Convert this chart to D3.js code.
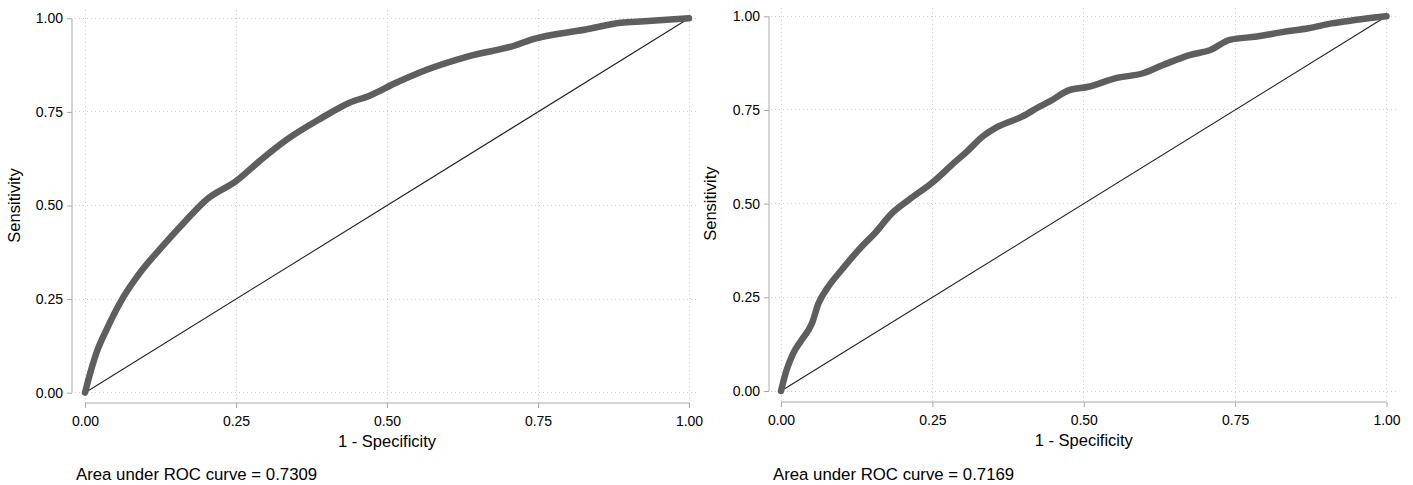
<!DOCTYPE html>
<html>
<head>
<meta charset="utf-8">
<script src="https://cdn.jsdelivr.net/npm/d3@7"></script>
<style>
  body { margin: 0; background: #fff; }
  svg { display: block; font-family: "Liberation Sans", Arial, sans-serif; }
</style>
</head>
<body>
<svg id="chart" width="1413" height="485"></svg>
<script>
// ---- Data ----
const tickValues = [0, 0.25, 0.5, 0.75, 1];
const tickLabels = ["0.00", "0.25", "0.50", "0.75", "1.00"];

const leftFpr  = [0, 0.005, 0.018, 0.037, 0.063, 0.089, 0.131, 0.166, 0.2015, 0.25, 0.295, 0.334, 0.392, 0.437, 0.469, 0.514, 0.552, 0.636, 0.713, 0.739, 0.829, 0.887, 0.926, 1];
const leftTpr  = [0, 0.031, 0.102, 0.173, 0.254, 0.316, 0.396, 0.458, 0.516, 0.565, 0.627, 0.676, 0.734, 0.774, 0.792, 0.827, 0.854, 0.899, 0.928, 0.943, 0.970, 0.988, 0.992, 1];
const leftAuc  = "Area under ROC curve = 0.7309";

const rightFpr = [0, 0.009, 0.02, 0.034, 0.051, 0.062, 0.078, 0.1, 0.133, 0.155, 0.183, 0.211, 0.249, 0.288, 0.307, 0.333, 0.359, 0.398, 0.427, 0.443, 0.476, 0.508, 0.553, 0.598, 0.631, 0.676, 0.709, 0.741, 0.786, 0.832, 0.871, 0.909, 0.948, 1];
const rightTpr = [0, 0.055, 0.1, 0.136, 0.18, 0.234, 0.278, 0.323, 0.385, 0.421, 0.474, 0.51, 0.555, 0.612, 0.639, 0.679, 0.706, 0.732, 0.759, 0.772, 0.803, 0.812, 0.835, 0.848, 0.870, 0.897, 0.910, 0.937, 0.946, 0.959, 0.968, 0.981, 0.990, 1];
const rightAuc = "Area under ROC curve = 0.7169";

const xTitle = "1 - Specificity";
const yTitle = "Sensitivity";

// ---- Drawing ----
const svg = d3.select("#chart");
const FONT = "Liberation Sans, Arial, sans-serif";

function panel(cfg, fpr, tpr, aucText) {
  const g = svg.append("g");
  const x = d3.scaleLinear().domain([0, 1]).range([cfg.x0, cfg.x1]);
  const y = d3.scaleLinear().domain([0, 1]).range([cfg.y0, cfg.y1]);

  // grid
  const grid = g.append("g");
  grid.selectAll("line.h").data(tickValues).join("line")
    .attr("x1", cfg.x0 - 10).attr("x2", cfg.x1 + 10)
    .attr("y1", d => y(d)).attr("y2", d => y(d))
    .attr("stroke", "#cfcfcf").attr("stroke-width", 1).attr("stroke-dasharray", "1,3")
    .attr("shape-rendering", "crispEdges");
  grid.selectAll("line.v").data(tickValues).join("line")
    .attr("y1", cfg.y0 + 10).attr("y2", cfg.y1 - 10)
    .attr("x1", d => x(d)).attr("x2", d => x(d))
    .attr("stroke", "#cfcfcf").attr("stroke-width", 1).attr("stroke-dasharray", "1,3")
    .attr("shape-rendering", "crispEdges");

  // y axis
  const yAxis = d3.axisLeft(y).tickValues(tickValues)
    .tickFormat((d, i) => tickLabels[i]).tickSize(5).tickSizeOuter(0).tickPadding(4);
  const ya = g.append("g").attr("transform", `translate(${cfg.yAxisX},0)`).call(yAxis);
  ya.select(".domain").attr("stroke", "#a8a8a8").attr("d", `M0,${y(1)}V${y(0)}`);
  ya.selectAll(".tick line").attr("stroke", "#a8a8a8");
  ya.selectAll(".tick text").attr("fill", "#000").attr("font-size", 14).attr("font-family", FONT);

  // x axis
  const xAxis = d3.axisBottom(x).tickValues(tickValues)
    .tickFormat((d, i) => tickLabels[i]).tickSize(5).tickSizeOuter(0).tickPadding(8);
  const xa = g.append("g").attr("transform", `translate(0,${cfg.xAxisY})`).call(xAxis);
  xa.select(".domain").attr("stroke", "#a8a8a8").attr("d", `M${x(0)},0H${x(1)}`);
  xa.selectAll(".tick line").attr("stroke", "#a8a8a8");
  xa.selectAll(".tick text").attr("fill", "#000").attr("font-size", 14).attr("font-family", FONT);

  // reference diagonal
  g.append("line")
    .attr("x1", x(0)).attr("y1", y(0)).attr("x2", x(1)).attr("y2", y(1))
    .attr("stroke", "#222").attr("stroke-width", 1.1);

  // ROC curve
  const pts = fpr.map((v, i) => [v, tpr[i]]);
  g.append("path").datum(pts)
    .attr("d", d3.line().x(d => x(d[0])).y(d => y(d[1])).curve(d3.curveMonotoneX))
    .attr("fill", "none").attr("stroke", "#5e5e5e").attr("stroke-width", 6.5)
    .attr("stroke-linejoin", "round").attr("stroke-linecap", "round");

  // titles
  g.append("text").attr("x", (x(0) + x(1)) / 2).attr("y", cfg.xAxisY + 44)
    .attr("text-anchor", "middle").attr("font-size", 16.5).text(xTitle);
  g.append("text")
    .attr("transform", `translate(${cfg.yTitleX},${(y(0) + y(1)) / 2}) rotate(-90)`)
    .attr("text-anchor", "middle").attr("font-size", 16.5).text(yTitle);
  g.append("text").attr("x", cfg.aucX).attr("y", 480)
    .attr("font-size", 16.8).text(aucText);
}

panel({x0: 85, x1: 689, y0: 392.7, y1: 18.3, yAxisX: 72, xAxisY: 403, yTitleX: 20, aucX: 76},
      leftFpr, leftTpr, leftAuc);
panel({x0: 781, x1: 1386.5, y0: 391, y1: 16.3, yAxisX: 769, xAxisY: 402, yTitleX: 716, aucX: 773},
      rightFpr, rightTpr, rightAuc);
</script>
</body>
</html>
